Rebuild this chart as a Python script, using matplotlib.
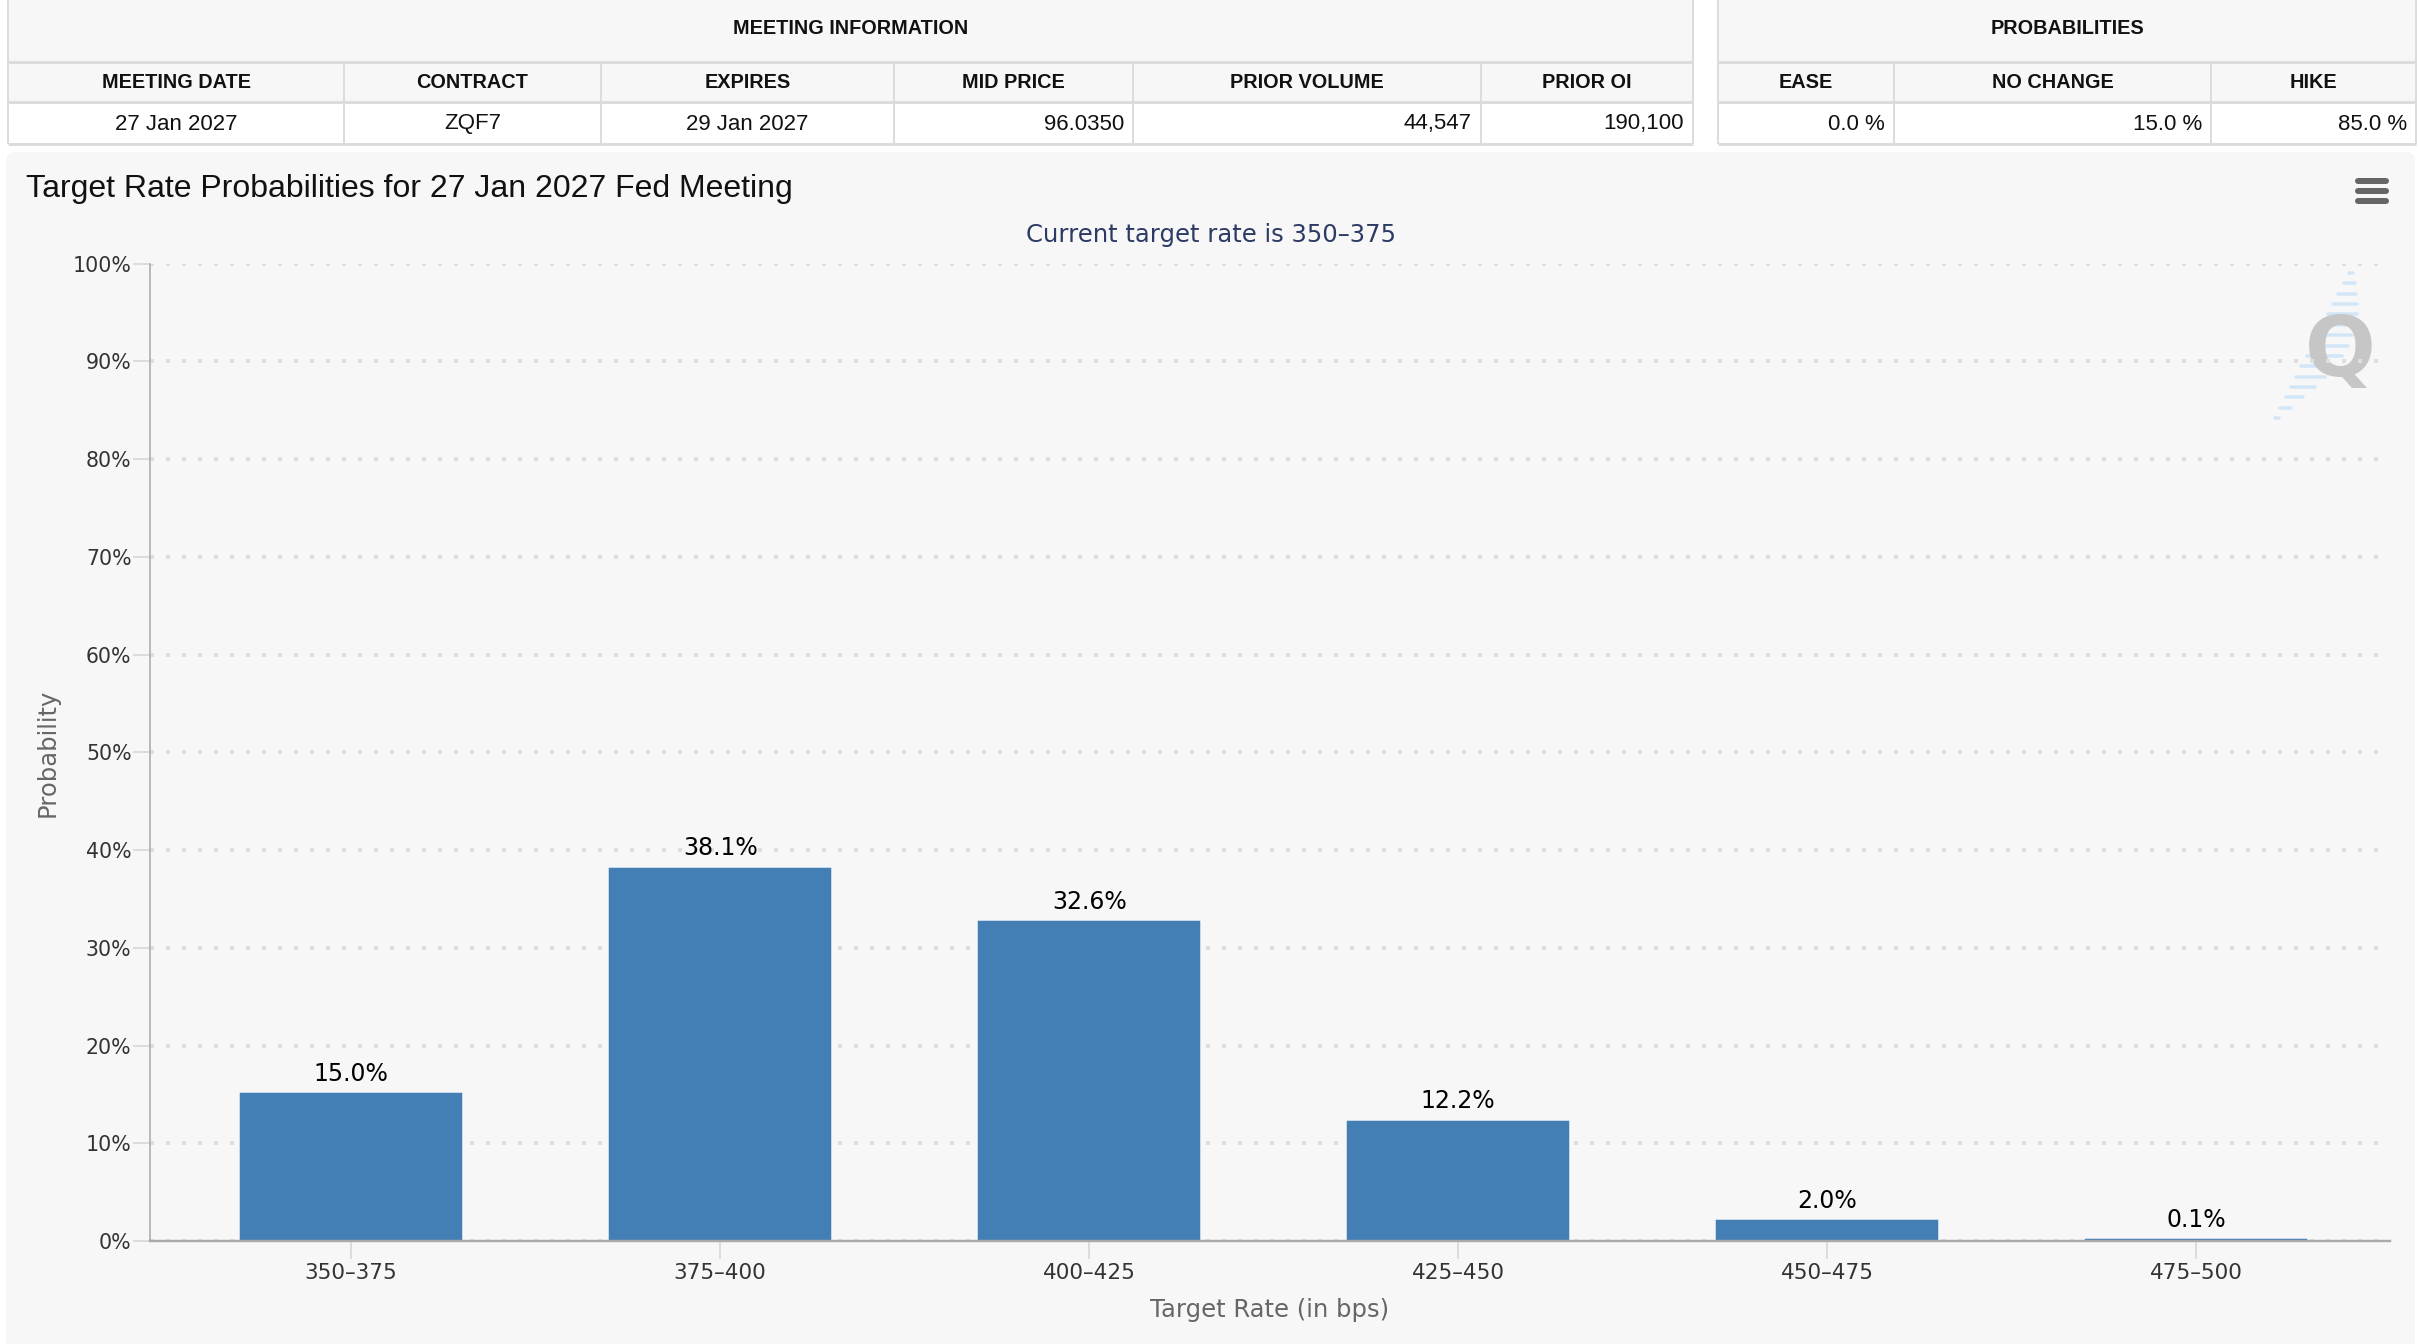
import numpy as np
import matplotlib
matplotlib.use("Agg")
import matplotlib.pyplot as plt
from matplotlib.patches import FancyBboxPatch, Rectangle

# --- data -------------------------------------------------------------
meeting_headers = ["MEETING DATE", "CONTRACT", "EXPIRES", "MID PRICE", "PRIOR VOLUME", "PRIOR OI"]
meeting_values = ["27 Jan 2027", "ZQF7", "29 Jan 2027", "96.0350", "44,547", "190,100"]
prob_headers = ["EASE", "NO CHANGE", "HIKE"]
prob_values = ["0.0 %", "15.0 %", "85.0 %"]

rate_bins = ["350–375", "375–400", "400–425", "425–450", "450–475", "475–500"]
probabilities = [15.0, 38.1, 32.6, 12.2, 2.0, 0.1]
y_ticks = [0, 10, 20, 30, 40, 50, 60, 70, 80, 90, 100]

title = "Target Rate Probabilities for 27 Jan 2027 Fed Meeting"
subtitle = "Current target rate is 350–375"

# --- layout (pixels) --------------------------------------------------
W, H = 2418, 1344
meeting_edges = [8, 344, 601, 894, 1133, 1481, 1693]
meeting_align = ["center", "center", "center", "right", "right", "right"]
prob_edges = [1718, 1894, 2211, 2416]
prob_align = ["right", "right", "right"]
row_y = [0, 62, 102, 144]

BORDER = "#dcdcdc"
PANEL = "#f7f7f7"
BAR = "#437fb5"

fig = plt.figure(figsize=(W / 100, H / 100), dpi=100)
fig.patch.set_facecolor("white")

bg = fig.add_axes([0, 0, 1, 1])
bg.set_xlim(0, W)
bg.set_ylim(H, 0)
bg.axis("off")

px = 72 / 100  # points per pixel


def draw_table(edges, aligns, group_title, headers, values):
    x0, x1 = edges[0], edges[-1]
    bg.add_patch(Rectangle((x0, row_y[0]), x1 - x0, row_y[2] - row_y[0],
                           facecolor=PANEL, edgecolor="none"))
    for y in row_y[1:]:
        bg.plot([x0, x1], [y, y], color=BORDER, lw=3 * px, solid_capstyle="butt")
    for i, x in enumerate(edges):
        top = row_y[0] if i in (0, len(edges) - 1) else row_y[1]
        bg.plot([x, x], [top, row_y[3]], color=BORDER, lw=2 * px, solid_capstyle="butt")
    bg.text((x0 + x1) / 2, 29, group_title, ha="center", va="center",
            fontsize=14.3, fontweight="bold", family="Liberation Sans", color="#111111")
    for i in range(len(headers)):
        cx = (edges[i] + edges[i + 1]) / 2
        bg.text(cx, 82, headers[i], ha="center", va="center", fontsize=14.3,
                fontweight="bold", family="Liberation Sans", color="#111111")
        if aligns[i] == "center":
            vx = cx
        else:
            vx = edges[i + 1] - 9
        bg.text(vx, 124, values[i], ha=aligns[i], va="center", fontsize=16,
                family="Liberation Sans", color="#111111")


draw_table(meeting_edges, meeting_align, "MEETING INFORMATION", meeting_headers, meeting_values)
draw_table(prob_edges, prob_align, "PROBABILITIES", prob_headers, prob_values)

# chart panel
bg.add_patch(FancyBboxPatch((6, 152), 2409, 1210, boxstyle="round,pad=0,rounding_size=9",
                            facecolor=PANEL, edgecolor="none"))
bg.text(26, 189, title, ha="left", va="center", fontsize=23,
        family="Liberation Sans", color="#111111")
bg.text(1211, 235, subtitle, ha="center", va="center", fontsize=17.5,
        family="DejaVu Sans", color="#2c3a64")

# menu icon
for yy in [181, 191, 201]:
    bg.plot([2358, 2386], [yy, yy], color="#666666", lw=6 * px, solid_capstyle="round")

# watermark
for t in np.linspace(0, 1, 15):
    yy = 273 + t * 145
    xl = 2349 - t * 74
    ln = 4 + 32 * np.sin(np.pi * t)
    bg.plot([xl, xl + ln], [yy, yy], color="#d3e6f7", lw=3.5 * px, solid_capstyle="round")
bg.text(2340, 352, "Q", ha="center", va="center", fontsize=60, fontweight="bold",
        family="DejaVu Sans", color="#c6c6c6")

# --- bar chart --------------------------------------------------------
left, right = 150, 2390
top, bottom = 263.7, 1241
ax = fig.add_axes([left / W, 1 - bottom / H, (right - left) / W, (bottom - top) / H])
ax.set_facecolor("none")
ax.set_zorder(2)

x = np.arange(len(rate_bins))
bars = ax.bar(x, probabilities, width=0.595, color=BAR, edgecolor=BAR,
              linewidth=2.5 * px, zorder=3)
for b, v in zip(bars, probabilities):
    ax.annotate(f"{v:.1f}%", (b.get_x() + b.get_width() / 2, v), xytext=(0, 6),
                textcoords="offset points", ha="center", va="bottom",
                fontsize=17, color="#000000", family="DejaVu Sans")

ax.set_xlim(-0.545, 5.525)
ax.set_ylim(0, 100)
ax.set_xticks(x)
ax.set_xticklabels(rate_bins)
ax.set_yticks(y_ticks)
ax.set_yticklabels([f"{t}%" for t in y_ticks])

ax.grid(axis="y", color="#dedede", linestyle=(0, (1, 3)), lw=4 * px, zorder=0)
ax.set_axisbelow(True)

for s in ["top", "right"]:
    ax.spines[s].set_visible(False)
ax.spines["left"].set_color("#aaaaaa")
ax.spines["left"].set_linewidth(1.6 * px)
ax.spines["bottom"].set_color("#aaaaaa")
ax.spines["bottom"].set_linewidth(2.4 * px)
ax.spines["bottom"].set_zorder(4)

ax.tick_params(axis="x", length=18 * px, width=1.5 * px, color="#d4d4d4", pad=3,
               labelsize=15.5, labelcolor="#333333")
ax.tick_params(axis="y", length=17 * px, width=2 * px, color="#dcdcdc", pad=1,
               labelsize=14.8, labelcolor="#333333")

ax.set_xlabel("Target Rate (in bps)", fontsize=17.5, color="#666666", va="center")
ax.xaxis.set_label_coords(0.5, (bottom - 1310) / (bottom - top))
ax.set_ylabel("Probability", fontsize=17.5, color="#666666", va="center", ha="center")
ax.yaxis.set_label_coords((48 - left) / (right - left), 0.5)

fig.savefig("out.png", dpi=100, facecolor="white")
